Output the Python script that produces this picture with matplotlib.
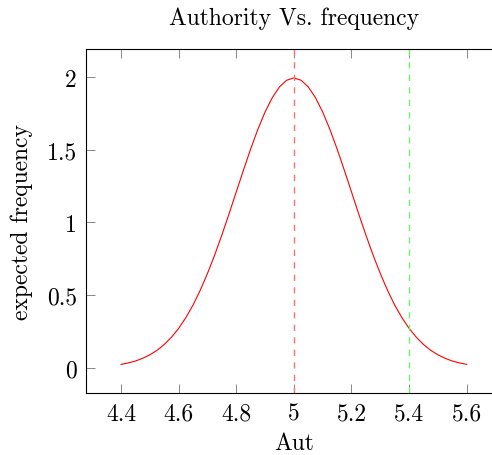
import matplotlib
matplotlib.use("Agg")
import matplotlib.pyplot as plt

aut = [4.400, 4.425, 4.450, 4.475, 4.500, 4.525, 4.550, 4.575, 4.600, 4.625,
       4.650, 4.675, 4.700, 4.725, 4.750, 4.775, 4.800, 4.825, 4.850, 4.875,
       4.900, 4.925, 4.950, 4.975, 5.000, 5.025, 5.050, 5.075, 5.100, 5.125,
       5.150, 5.175, 5.200, 5.225, 5.250, 5.275, 5.300, 5.325, 5.350, 5.375,
       5.400, 5.425, 5.450, 5.475, 5.500, 5.525, 5.550, 5.575, 5.600]
freq = [0.022, 0.032, 0.045, 0.064, 0.088, 0.119, 0.159, 0.209, 0.270, 0.344,
        0.431, 0.533, 0.648, 0.775, 0.913, 1.059, 1.210, 1.360, 1.506, 1.641,
        1.760, 1.859, 1.933, 1.979, 1.995, 1.979, 1.933, 1.859, 1.760, 1.641,
        1.506, 1.360, 1.210, 1.059, 0.913, 0.775, 0.648, 0.533, 0.431, 0.344,
        0.270, 0.209, 0.159, 0.119, 0.088, 0.064, 0.045, 0.032, 0.022]
mean_line = 5.0
cut_line = 5.4
xticks = [4.4, 4.6, 4.8, 5.0, 5.2, 5.4, 5.6]
xtick_labels = ["4.4", "4.6", "4.8", "5", "5.2", "5.4", "5.6"]
yticks = [0, 0.5, 1, 1.5, 2]
ytick_labels = ["0", "0.5", "1", "1.5", "2"]

plt.rcParams['font.family'] = ['cmr10', 'DejaVu Serif']
plt.rcParams['axes.unicode_minus'] = False
fs = 17

fig = plt.figure(figsize=(4.92, 4.56), dpi=100)
ax = fig.add_axes([0.1758, 0.136, 0.843, 0.7537])

ax.plot(aut, freq, color='red', lw=0.8)
ax.axvline(mean_line, color='#ff6f6f', lw=1.0, ls=(0, (4.5, 4.5)))
ax.axvline(cut_line, color='#6fee6f', lw=1.0, ls=(0, (4.5, 4.5)))

ax.set_xlim(4.28, 5.72)
ax.set_ylim(-0.175, 2.192)
ax.set_xticks(xticks)
ax.set_xticklabels(xtick_labels)
ax.set_yticks(yticks)
ax.set_yticklabels(ytick_labels)
ax.tick_params(direction='in', length=6.5, width=0.7, color='#888888',
               top=True, right=True, labelsize=fs, pad=7)
for sp in ax.spines.values():
    sp.set_linewidth(0.8)

ax.set_title("Authority Vs. frequency", fontsize=fs, pad=18.5)
ax.set_xlabel("Aut", fontsize=fs, labelpad=5)
ax.set_ylabel("expected frequency", fontsize=fs, labelpad=10)

fig.savefig("out.png", dpi=100)
